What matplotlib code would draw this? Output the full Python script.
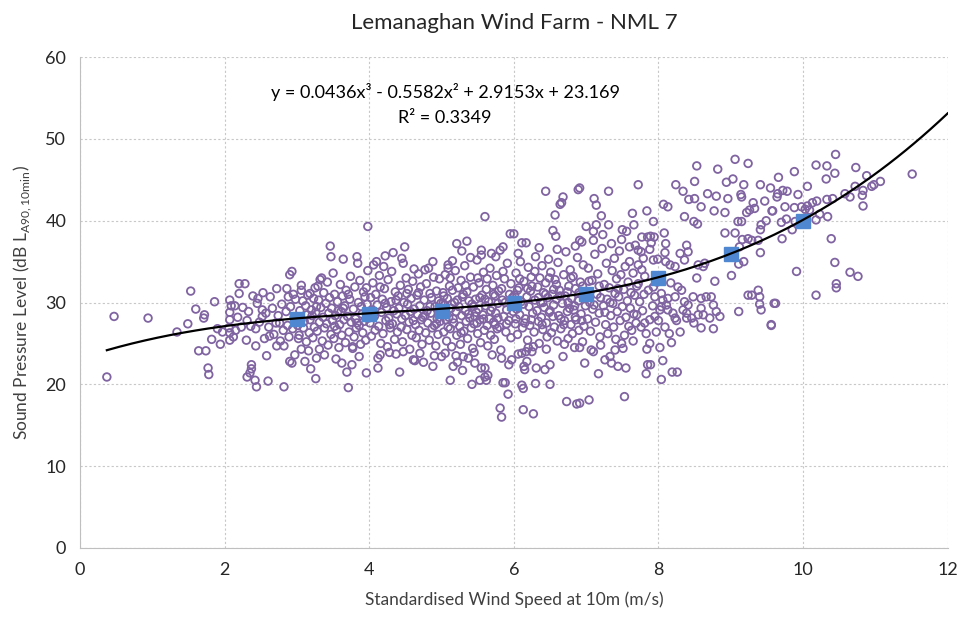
import numpy as np
import matplotlib
matplotlib.use("Agg")
import matplotlib.pyplot as plt

plt.rcParams["font.family"] = ["Lato", "DejaVu Sans"]
plt.rcParams["mathtext.fontset"] = "custom"
plt.rcParams["mathtext.rm"] = "Lato"

# measured 10-min samples (wind speed m/s, LA90 dB), grouped by wind speed band
band_0_2 = [(0.47, 28.3), (0.94, 28.1), (0.37, 20.9), (1.53, 31.4), (1.60, 29.2), (1.49, 27.4),
            (1.34, 26.4), (1.72, 28.5), (1.71, 28.1), (1.86, 30.1), (1.90, 26.8), (1.82, 25.5),
            (1.94, 24.9), (1.64, 24.1), (1.74, 24.1), (1.77, 22.0), (1.78, 21.2), (1.97, 26.4)]

band_2_3 = [(2.07, 30.3), (2.07, 28.8), (2.07, 27.9), (2.07, 26.3), (2.07, 25.4), (2.09, 29.6),
            (2.06, 26.9), (2.14, 29.6), (2.20, 32.3), (2.28, 32.3), (2.20, 31.1), (2.39, 30.8),
            (2.46, 30.5), (2.15, 26.6), (2.12, 25.8), (2.30, 25.4), (2.31, 27.8), (2.43, 24.7),
            (2.52, 29.1), (2.52, 28.3), (2.43, 26.8), (2.55, 25.6), (2.63, 30.7), (2.58, 23.5),
            (2.37, 22.4), (2.37, 21.9), (2.35, 21.4), (2.31, 20.9), (2.42, 20.5), (2.44, 19.7),
            (2.60, 20.4), (2.72, 31.7), (2.72, 24.7), (2.82, 24.7), (2.82, 19.7), (2.71, 27.5),
            (2.76, 27.5), (2.86, 31.7), (2.88, 30.7), (2.90, 33.4), (2.93, 33.8), (2.90, 22.8),
            (2.93, 22.6), (2.97, 23.6), (2.18, 28.2), (2.25, 29.4), (2.33, 28.9), (2.36, 27.1),
            (2.48, 27.6), (2.57, 28.7), (2.61, 27.0), (2.66, 29.3), (2.68, 26.1), (2.74, 28.4),
            (2.79, 29.8), (2.81, 26.6), (2.85, 28.9), (2.87, 27.2), (2.91, 29.5), (2.94, 26.8),
            (2.96, 28.2), (2.98, 30.4), (2.62, 25.9), (2.77, 25.3), (2.89, 25.8), (2.23, 27.0),
            (2.45, 29.9), (2.53, 31.2), (2.95, 31.0)]

band_3_4 = [(3.02, 25.6), (3.03, 26.0), (3.06, 32.1), (3.06, 31.5), (3.11, 22.8), (3.06, 24.3),
            (3.16, 24.1), (3.19, 21.9), (3.26, 20.7), (3.27, 23.2), (3.31, 24.3), (3.18, 31.1),
            (3.23, 30.5), (3.27, 29.5), (3.29, 32.0), (3.32, 32.8), (3.34, 33.0), (3.46, 36.9),
            (3.47, 35.6), (3.64, 35.3), (3.83, 35.6), (3.84, 34.8), (3.71, 19.6), (3.69, 21.5),
            (3.76, 22.4), (3.77, 24.6), (3.77, 24.4), (3.96, 21.4),
            (3.01, 27.2), (3.04, 29.0), (3.05, 28.1), (3.08, 30.2), (3.09, 26.9), (3.10, 27.7),
            (3.12, 29.6), (3.13, 25.2), (3.14, 28.5), (3.15, 30.9), (3.17, 26.3), (3.18, 27.9),
            (3.20, 29.1), (3.21, 28.4), (3.22, 25.7), (3.24, 27.0), (3.25, 31.8), (3.26, 28.8),
            (3.28, 26.5), (3.30, 30.3), (3.31, 27.6), (3.33, 29.4), (3.35, 25.3), (3.36, 28.2),
            (3.37, 31.2), (3.38, 26.9), (3.40, 29.9), (3.41, 27.4), (3.42, 32.5), (3.43, 24.8),
            (3.44, 28.7), (3.45, 30.6), (3.47, 26.1), (3.48, 29.3), (3.49, 27.8), (3.50, 33.6),
            (3.51, 25.6), (3.52, 31.0), (3.53, 28.4), (3.55, 26.7), (3.56, 30.1), (3.57, 29.0),
            (3.58, 24.5), (3.59, 27.3), (3.60, 32.2), (3.61, 28.9), (3.62, 26.0), (3.63, 30.8),
            (3.65, 27.9), (3.66, 29.6), (3.67, 25.1), (3.68, 31.5), (3.70, 28.3), (3.72, 26.4),
            (3.73, 30.4), (3.74, 33.2), (3.75, 27.6), (3.78, 29.2), (3.79, 25.8), (3.80, 31.9),
            (3.81, 28.0), (3.82, 26.9), (3.85, 30.0), (3.86, 27.2), (3.87, 32.7), (3.88, 24.9),
            (3.89, 29.5), (3.90, 28.6), (3.91, 26.3), (3.92, 31.3), (3.93, 27.7), (3.94, 30.7),
            (3.95, 25.4), (3.97, 29.8), (3.98, 33.9), (3.99, 28.1), (3.38, 23.6), (3.54, 23.1),
            (3.62, 22.6), (3.86, 23.4)]

band_4_5 = [(3.98, 39.3), (4.49, 36.8), (4.22, 35.7), (4.10, 35.0), (4.06, 34.6), (4.45, 35.4),
            (4.47, 34.8), (4.82, 34.2), (4.77, 34.0), (4.12, 22.0), (4.42, 21.5), (4.61, 23.0),
            (4.63, 22.9), (4.75, 22.7), (4.88, 22.2), (4.37, 23.7), (4.15, 23.6), (4.12, 23.2),
            (4.01, 27.5), (4.02, 30.6), (4.03, 25.9), (4.04, 29.1), (4.05, 32.4), (4.07, 28.3),
            (4.08, 26.6), (4.09, 31.0), (4.11, 29.7), (4.13, 27.1), (4.14, 33.3), (4.16, 25.0),
            (4.17, 28.8), (4.18, 30.4), (4.19, 26.2), (4.21, 31.7), (4.23, 27.8), (4.24, 29.4),
            (4.25, 24.6), (4.26, 32.8), (4.27, 28.1), (4.29, 26.9), (4.30, 30.1), (4.31, 33.8),
            (4.32, 27.4), (4.34, 29.0), (4.35, 25.5), (4.36, 31.3), (4.38, 28.6), (4.39, 26.4),
            (4.40, 30.8), (4.41, 29.3), (4.43, 32.1), (4.44, 27.0), (4.46, 25.2), (4.48, 30.0),
            (4.50, 28.4), (4.51, 33.0), (4.52, 26.7), (4.53, 29.8), (4.54, 31.6), (4.55, 27.6),
            (4.56, 24.3), (4.57, 28.9), (4.58, 30.5), (4.59, 26.0), (4.60, 32.6), (4.62, 29.2),
            (4.64, 27.3), (4.65, 25.7), (4.66, 30.9), (4.67, 28.5), (4.68, 33.5), (4.69, 26.6),
            (4.70, 29.6), (4.71, 31.9), (4.72, 27.9), (4.73, 24.9), (4.74, 28.2), (4.76, 30.3),
            (4.78, 26.3), (4.79, 32.3), (4.80, 29.0), (4.81, 27.5), (4.83, 25.4), (4.84, 31.1),
            (4.85, 28.7), (4.86, 30.6), (4.87, 26.9), (4.89, 33.1), (4.90, 27.2), (4.91, 29.5),
            (4.92, 24.7), (4.93, 31.4), (4.94, 28.0), (4.95, 26.1), (4.96, 30.2), (4.97, 32.9),
            (4.98, 27.7), (4.99, 29.9), (4.28, 23.9), (4.47, 24.0), (4.70, 23.8), (4.90, 23.5),
            (4.20, 34.4), (4.62, 34.1), (4.88, 35.0), (4.33, 36.1)]

band_5_6 = [(5.60, 40.5), (5.21, 37.2), (5.28, 36.3), (5.55, 36.4), (5.55, 35.8), (5.69, 36.0),
            (5.81, 36.4), (5.85, 36.8), (5.09, 34.6), (5.09, 34.2), (5.00, 23.4), (5.12, 20.5),
            (5.16, 22.2), (5.22, 22.7), (5.29, 21.7), (5.42, 20.0), (5.53, 20.5), (5.60, 20.9),
            (5.64, 21.1), (5.62, 20.5), (5.55, 22.0), (5.60, 22.0), (5.46, 22.6), (5.37, 23.2),
            (5.30, 23.4), (5.83, 23.2), (5.81, 17.1), (5.83, 16.0), (5.85, 20.2), (5.95, 38.4),
            (5.88, 20.2), (5.92, 18.8), (5.97, 23.0),
            (5.01, 28.6), (5.02, 31.2), (5.03, 26.4), (5.04, 29.7), (5.05, 33.4), (5.06, 27.9),
            (5.07, 25.3), (5.08, 30.5), (5.10, 28.2), (5.11, 32.0), (5.12, 26.8), (5.13, 29.3),
            (5.14, 24.6), (5.15, 31.5), (5.17, 27.5), (5.18, 30.0), (5.19, 33.9), (5.20, 28.9),
            (5.21, 26.0), (5.23, 31.8), (5.24, 29.5), (5.25, 27.1), (5.26, 24.9), (5.27, 32.7),
            (5.28, 28.4), (5.29, 30.7), (5.31, 26.5), (5.32, 34.5), (5.33, 29.0), (5.34, 27.7),
            (5.35, 31.3), (5.36, 25.6), (5.38, 30.2), (5.39, 28.1), (5.40, 33.1), (5.41, 26.9),
            (5.42, 29.8), (5.43, 24.4), (5.44, 31.9), (5.45, 27.4), (5.47, 30.4), (5.48, 28.8),
            (5.49, 35.2), (5.50, 26.2), (5.51, 29.2), (5.52, 32.4), (5.53, 27.9), (5.54, 25.1),
            (5.56, 30.9), (5.57, 28.5), (5.58, 33.7), (5.59, 26.6), (5.61, 29.6), (5.62, 31.6),
            (5.63, 27.2), (5.64, 24.7), (5.65, 30.1), (5.66, 28.0), (5.67, 34.2), (5.68, 26.0),
            (5.70, 29.4), (5.71, 32.1), (5.72, 27.6), (5.73, 25.5), (5.74, 30.8), (5.75, 28.7),
            (5.76, 33.3), (5.77, 26.8), (5.78, 29.9), (5.79, 31.4), (5.80, 27.0), (5.82, 24.2),
            (5.84, 30.3), (5.86, 28.3), (5.87, 32.9), (5.89, 26.4), (5.90, 29.1), (5.91, 34.8),
            (5.93, 27.8), (5.94, 31.0), (5.96, 25.7), (5.98, 30.6), (5.99, 28.9), (5.05, 23.8),
            (5.20, 23.5), (5.45, 23.9), (5.70, 23.6), (5.93, 22.4), (5.15, 35.1), (5.40, 35.5),
            (5.75, 35.6), (5.35, 37.5), (5.02, 29.9), (5.16, 28.0), (5.30, 31.0), (5.46, 28.3),
            (5.60, 30.4), (5.74, 27.3), (5.88, 30.0), (5.12, 33.0), (5.50, 33.0), (5.85, 33.8)]

band_6_7 = [(6.44, 43.6), (6.68, 42.9), (6.66, 42.2), (6.64, 42.0), (6.89, 43.8), (6.91, 44.0),
            (6.57, 40.7), (6.00, 38.4), (6.11, 37.3), (6.17, 37.3), (6.54, 38.8), (6.58, 38.1),
            (6.91, 37.6), (6.94, 37.4), (6.13, 19.5), (6.11, 19.9), (6.13, 16.9), (6.27, 16.4),
            (6.30, 20.1), (6.50, 20.0), (6.73, 17.9), (6.87, 17.6), (6.91, 17.7), (6.15, 21.8),
            (6.14, 22.2), (6.18, 22.8), (6.11, 23.8), (6.17, 24.0), (6.25, 24.0), (6.27, 24.6),
            (6.06, 23.7), (6.31, 22.0), (6.43, 21.8), (6.50, 22.4), (6.68, 23.4), (6.84, 24.5),
            (6.91, 24.5), (6.98, 22.6),
            (6.01, 30.9), (6.02, 27.4), (6.03, 33.6), (6.04, 29.2), (6.05, 26.1), (6.07, 31.8),
            (6.08, 28.5), (6.09, 35.0), (6.10, 30.1), (6.12, 26.9), (6.14, 32.6), (6.16, 28.0),
            (6.18, 30.7), (6.19, 25.4), (6.20, 34.3), (6.21, 29.5), (6.22, 27.2), (6.23, 31.4),
            (6.24, 33.1), (6.26, 28.7), (6.28, 26.4), (6.29, 30.3), (6.30, 35.6), (6.32, 29.0),
            (6.33, 31.9), (6.34, 27.7), (6.35, 25.0), (6.36, 33.0), (6.37, 30.0), (6.38, 28.2),
            (6.39, 34.5), (6.40, 26.7), (6.41, 31.2), (6.42, 29.4), (6.44, 32.4), (6.45, 27.5),
            (6.46, 25.8), (6.47, 30.6), (6.48, 35.3), (6.49, 28.8), (6.51, 33.7), (6.52, 26.3),
            (6.53, 31.0), (6.55, 29.7), (6.56, 27.0), (6.57, 32.8), (6.59, 30.4), (6.60, 25.3),
            (6.61, 34.9), (6.62, 28.4), (6.63, 31.5), (6.65, 26.8), (6.67, 29.9), (6.69, 33.4),
            (6.70, 27.8), (6.71, 30.8), (6.72, 36.2), (6.74, 28.9), (6.75, 25.6), (6.76, 32.0),
            (6.77, 29.3), (6.78, 34.0), (6.79, 27.3), (6.80, 30.5), (6.81, 26.2), (6.82, 33.2),
            (6.83, 29.1), (6.85, 31.7), (6.86, 27.9), (6.88, 35.5), (6.89, 30.2), (6.90, 26.6),
            (6.92, 32.5), (6.93, 28.6), (6.95, 30.9), (6.96, 34.6), (6.97, 27.1), (6.99, 29.6),
            (6.06, 36.0), (6.35, 36.7), (6.60, 36.5), (6.85, 36.9), (6.20, 24.5), (6.45, 24.3),
            (6.70, 24.9), (6.95, 25.2), (6.05, 31.5), (6.15, 27.5), (6.25, 32.0), (6.40, 30.0),
            (6.55, 31.6), (6.65, 28.0), (6.75, 30.0), (6.85, 28.2), (6.95, 32.0), (6.50, 29.0)]

band_7_8 = [(7.11, 42.7), (7.14, 41.9), (7.31, 43.6), (7.64, 40.9), (7.21, 40.6), (7.00, 39.3),
            (7.14, 39.5), (7.10, 38.7), (7.31, 39.5), (7.23, 38.3), (7.50, 38.9), (7.56, 38.7),
            (7.49, 37.7), (7.66, 39.5), (7.04, 18.1), (7.53, 18.5), (7.07, 24.2), (7.10, 24.0),
            (7.17, 21.3), (7.26, 23.0), (7.33, 23.4), (7.35, 22.6), (7.44, 22.2), (7.55, 22.0),
            (7.49, 25.0), (7.51, 24.4), (7.72, 44.4),
            (7.01, 31.3), (7.02, 28.0), (7.03, 34.2), (7.05, 30.0), (7.06, 26.5), (7.08, 32.7),
            (7.09, 29.2), (7.12, 35.9), (7.13, 27.6), (7.15, 31.0), (7.16, 33.5), (7.18, 28.7),
            (7.19, 25.8), (7.20, 30.6), (7.22, 36.6), (7.24, 29.6), (7.25, 32.2), (7.27, 27.3),
            (7.28, 34.8), (7.29, 30.4), (7.30, 26.2), (7.32, 31.8), (7.34, 28.4), (7.36, 33.9),
            (7.37, 29.9), (7.38, 27.0), (7.39, 35.4), (7.40, 31.1), (7.41, 25.5), (7.42, 32.9),
            (7.43, 28.9), (7.45, 30.7), (7.46, 36.3), (7.47, 27.8), (7.48, 33.4), (7.50, 29.5),
            (7.52, 31.6), (7.53, 26.0), (7.54, 34.4), (7.55, 28.2), (7.57, 30.2), (7.58, 32.5),
            (7.59, 27.1), (7.60, 35.0), (7.61, 29.3), (7.62, 31.2), (7.63, 26.6), (7.65, 33.6),
            (7.66, 28.6), (7.67, 30.9), (7.68, 37.0), (7.69, 27.5), (7.70, 32.0), (7.10, 37.6),
            (7.35, 37.2), (7.60, 36.8), (7.20, 24.8), (7.40, 24.2), (7.65, 25.3),
            (7.77, 38.0), (7.85, 38.0), (7.89, 38.1), (7.94, 38.0), (7.90, 37.3), (7.88, 36.5),
            (7.76, 36.2), (7.72, 36.4), (7.79, 35.4), (7.99, 35.3), (7.93, 35.2), (7.84, 41.2),
            (7.93, 39.9), (7.72, 34.6), (7.77, 34.0), (7.81, 33.2), (7.72, 32.3), (7.86, 31.5),
            (7.93, 31.9), (7.95, 30.7), (7.95, 28.3), (7.88, 27.9), (7.81, 27.5), (7.83, 26.2),
            (7.88, 25.0), (7.85, 22.4), (7.89, 22.4), (7.83, 21.3), (7.74, 30.1), (7.78, 29.0),
            (7.80, 31.0), (7.92, 29.6), (7.98, 32.5), (7.76, 27.0), (7.97, 26.4), (7.70, 28.5),
            (7.84, 24.3)]

# extra samples read from the densest part of the cloud (3.5 - 7.5 m/s)
band_core_extra = [(3.52, 27.1), (3.64, 29.3), (3.71, 31.0), (3.83, 27.5), (3.96, 31.8), (4.06, 28.7),
                   (4.15, 31.9), (4.22, 29.9), (4.28, 27.3), (4.37, 30.3), (4.45, 28.0), (4.52, 31.1),
                   (4.61, 27.8), (4.68, 31.2), (4.77, 28.4), (4.84, 29.5), (4.93, 27.4), (5.03, 30.8),
                   (5.09, 27.0), (5.14, 29.8), (5.22, 30.3), (5.27, 26.3), (5.33, 32.1), (5.37, 28.6),
                   (5.44, 29.5), (5.49, 27.5), (5.53, 30.6), (5.58, 28.0), (5.63, 32.9), (5.68, 29.0),
                   (5.72, 31.0), (5.78, 28.1), (5.83, 31.7), (5.90, 27.4), (5.96, 32.3), (6.03, 28.0),
                   (6.08, 32.9), (6.13, 29.8), (6.19, 31.7), (6.24, 27.9), (6.29, 33.8), (6.34, 30.6),
                   (6.39, 27.3), (6.44, 31.0), (6.49, 33.0), (6.54, 28.3), (6.59, 32.2), (6.64, 30.8),
                   (6.69, 27.3), (6.74, 31.3), (6.79, 33.0), (6.84, 29.6), (6.90, 31.2), (6.94, 27.8),
                   (7.04, 32.6), (7.11, 29.7), (7.18, 32.0), (7.26, 28.8), (7.33, 30.0), (7.44, 31.7)]

band_8_10 = [(8.24, 44.4), (8.53, 46.7), (8.82, 46.3), (9.06, 47.5), (9.24, 47.0), (8.50, 44.8),
             (8.94, 44.7), (9.03, 45.1), (9.18, 44.4), (9.41, 44.4), (9.55, 44.0), (8.34, 43.6),
             (8.42, 42.6), (8.50, 42.7), (8.59, 41.7), (8.68, 43.3), (8.80, 43.0), (8.77, 41.2),
             (8.96, 42.7), (8.92, 41.0), (9.14, 43.2), (9.15, 42.9), (9.31, 42.2), (9.47, 42.4),
             (9.57, 41.2), (8.07, 42.0), (8.13, 41.7), (8.36, 40.5), (8.49, 39.9), (8.54, 39.6),
             (9.10, 39.9), (9.15, 39.9), (9.22, 41.0), (9.26, 41.3), (9.33, 41.5), (9.42, 39.5),
             (9.49, 40.0), (9.41, 38.9), (9.38, 37.6), (9.41, 36.1), (9.24, 37.8), (9.29, 37.6),
             (9.16, 37.7), (9.12, 36.8), (8.92, 38.5), (9.06, 38.5), (8.08, 38.5), (8.10, 37.2),
             (8.09, 36.1), (8.10, 35.0), (8.30, 36.0), (8.39, 37.0), (8.41, 36.2), (8.36, 35.2),
             (8.23, 34.4), (8.16, 34.6), (8.55, 34.6), (8.64, 34.8), (8.62, 34.4), (8.53, 33.0),
             (8.78, 32.6), (9.01, 33.3), (9.11, 34.7), (9.18, 35.0), (9.24, 30.9), (9.29, 30.9),
             (9.38, 31.5), (9.40, 30.7), (9.40, 29.8), (9.42, 29.1), (9.11, 28.9), (9.56, 27.3),
             (9.60, 29.9), (8.04, 31.1), (8.06, 30.3), (8.13, 30.5), (8.23, 30.7), (8.27, 31.9),
             (8.32, 31.5), (8.36, 30.1), (8.41, 29.7), (8.34, 29.1), (8.39, 28.7), (8.48, 30.7),
             (8.59, 30.5), (8.66, 30.7), (8.73, 30.7), (8.76, 29.7), (8.80, 28.9), (8.85, 28.3),
             (8.59, 29.3), (8.55, 28.5), (8.62, 28.5), (8.71, 28.1), (8.49, 27.5), (8.46, 28.1),
             (8.23, 28.1), (8.20, 28.7), (8.11, 29.7), (8.13, 29.1), (8.02, 29.1), (8.04, 29.5),
             (8.09, 27.0), (8.25, 27.8), (8.39, 28.1), (8.76, 26.8), (8.59, 26.9), (8.06, 22.9),
             (8.04, 20.6), (8.19, 21.5), (8.26, 21.5), (8.00, 27.8), (8.17, 32.4), (8.15, 26.2),
             (8.30, 26.4), (8.02, 24.5), (8.18, 25.1)]

band_10_12 = [(10.45, 48.1), (10.18, 46.8), (10.33, 46.7), (10.73, 46.5), (9.88, 46.0), (9.66, 45.3),
              (10.44, 45.8), (10.32, 45.1), (10.88, 45.5), (11.07, 44.8), (10.98, 44.4), (10.95, 44.2),
              (11.51, 45.7), (10.06, 44.2), (9.65, 43.3), (9.64, 42.9), (9.72, 43.7), (9.78, 43.6),
              (9.93, 43.2), (10.72, 44.2), (10.83, 43.7), (10.82, 43.1), (10.65, 42.9), (10.58, 43.3),
              (10.41, 42.7), (10.33, 42.6), (10.19, 42.4), (10.13, 42.2), (10.06, 41.8), (9.98, 41.7),
              (9.88, 41.6), (9.75, 41.7), (9.58, 41.2), (10.83, 41.8), (10.23, 40.8), (10.34, 40.5),
              (10.18, 40.1), (10.09, 41.3), (10.03, 41.4), (9.89, 39.9), (9.77, 40.2), (9.70, 39.8),
              (9.85, 38.9), (9.71, 37.8), (10.39, 37.8), (10.44, 34.9), (10.65, 33.7), (10.76, 33.2),
              (10.46, 32.3), (10.46, 31.8), (10.18, 30.9), (9.91, 33.8), (9.62, 29.9), (9.56, 27.2)]

# bin-averaged levels at integer wind speeds
bin_ws = [3, 4, 5, 6, 7, 8, 9, 10]
bin_spl = [28.0, 28.6, 29.0, 29.9, 31.1, 33.0, 35.9, 40.0]

# polynomial trendline coefficients (highest power first) and fit quality
trend_coef = [0.0436, -0.5582, 2.9153, 23.169]
r_squared = 0.3349

points = np.array(band_0_2 + band_2_3 + band_3_4 + band_4_5 + band_5_6 + band_6_7 + band_7_8
                  + band_core_extra + band_8_10 + band_10_12)
ws, spl = points[:, 0], points[:, 1]

fig = plt.figure(figsize=(9.65, 6.27), dpi=100)
ax = fig.add_axes([0.083, 0.126, 0.899, 0.783])

ax.scatter(ws, spl, s=30, facecolors="none", edgecolors="#8064A2", linewidths=1.3, zorder=2)
ax.plot(bin_ws, bin_spl, linestyle="none", marker="s", markersize=10, color="#4F88D0", zorder=3)

trend_x = np.linspace(ws.min(), 12, 200)
ax.plot(trend_x, np.polyval(trend_coef, trend_x), color="black", linewidth=1.6, zorder=4)

ax.set_xlim(0, 12)
ax.set_ylim(0, 60)
ax.set_xticks(range(0, 13, 2))
ax.set_yticks(range(0, 61, 10))
ax.grid(True, color="#C8C8C8", linestyle=(0, (2, 2)), linewidth=0.8)
ax.set_axisbelow(True)
for side in ["top", "right"]:
    ax.spines[side].set_visible(False)
for side in ["left", "bottom"]:
    ax.spines[side].set_color("#BFBFBF")
ax.tick_params(length=0, labelsize=13, colors="#262626", pad=10)

ax.set_title("Lemanaghan Wind Farm - NML 7", fontsize=16, color="#262626", pad=20)
ax.set_xlabel("Standardised Wind Speed at 10m (m/s)", fontsize=12.5, color="#404040", labelpad=10)
ax.set_ylabel(r"Sound Pressure Level (dB L$_{\mathregular{A90,10min}}$)", fontsize=12.5,
              color="#404040", labelpad=8)

eq = "y = {:.4f}x³ - {:.4f}x² + {:.4f}x + {:.3f}".format(trend_coef[0], -trend_coef[1],
                                                        trend_coef[2], trend_coef[3])
ax.text(5.05, 55.7, eq, ha="center", va="center", fontsize=13, color="black")
ax.text(5.05, 52.6, "R² = {:.4f}".format(r_squared), ha="center", va="center", fontsize=13,
        color="black")

fig.savefig("out.png", dpi=100)
